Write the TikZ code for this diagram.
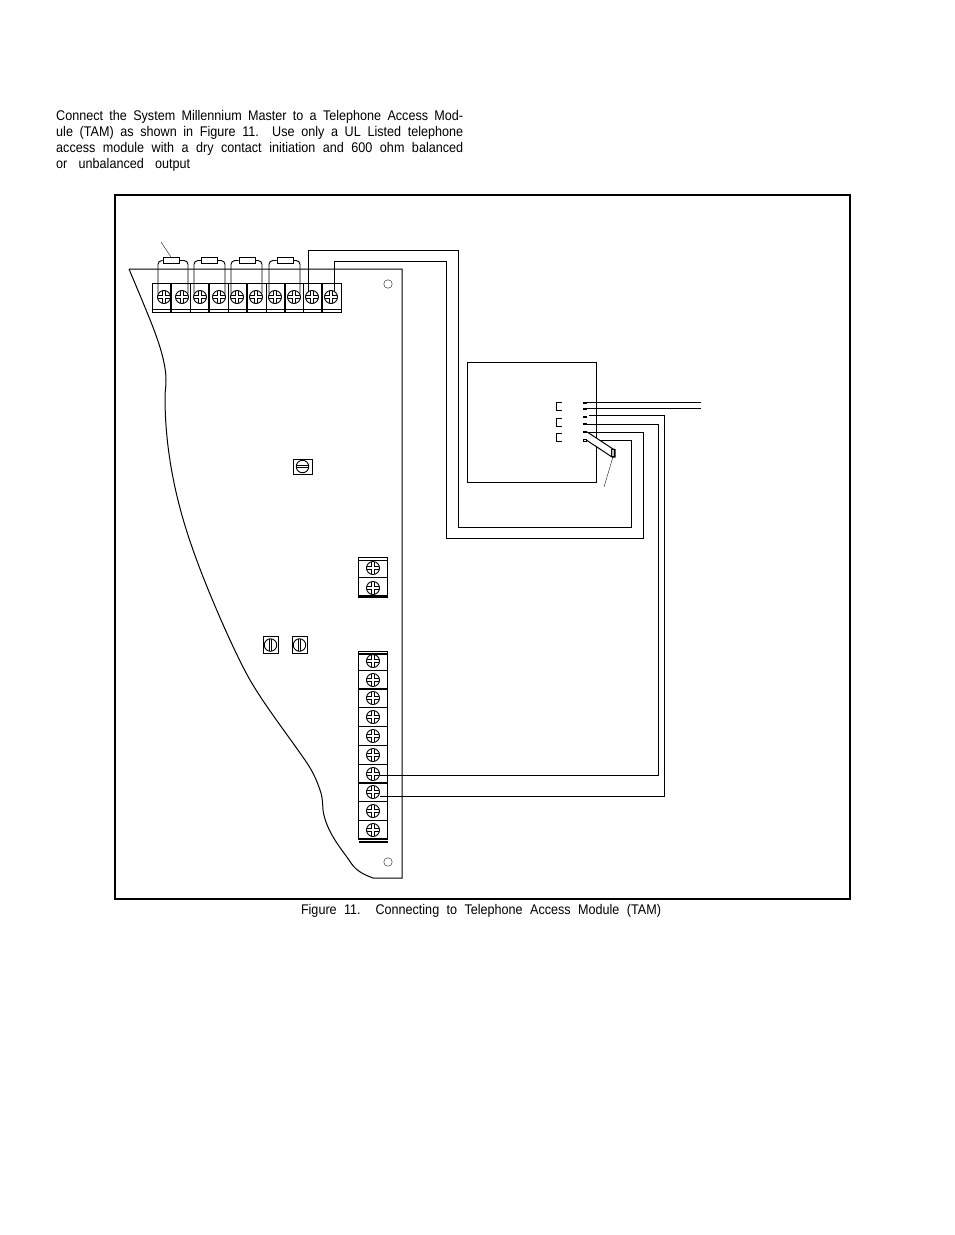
\documentclass[tikz,border=0pt]{standalone}
\usepackage{fontspec}
\setmainfont[FakeStretch=0.9]{Liberation Sans}
\usetikzlibrary{positioning}
\usetikzlibrary{calc}
\tikzstyle{terminal}=[rectangle,draw,line width=1pt,inner sep=0pt]
\tikzstyle{crossscrew}=[circle,draw,line width=0.9pt,fill=white,minimum size=13pt,inner sep=0pt,
  path picture={\draw[line width=3.5pt] ([xshift=-7pt]path picture bounding box.center) -- ([xshift=7pt]path picture bounding box.center);
    \draw[line width=3.5pt] ([yshift=-7pt]path picture bounding box.center) -- ([yshift=7pt]path picture bounding box.center);
    \draw[white,line width=1.6pt] ([xshift=-7pt]path picture bounding box.center) -- ([xshift=7pt]path picture bounding box.center);
    \draw[white,line width=1.6pt] ([yshift=-7pt]path picture bounding box.center) -- ([yshift=7pt]path picture bounding box.center);}]
\tikzstyle{slotH}=[circle,draw,line width=0.9pt,fill=white,minimum size=12.5pt,inner sep=0pt,
  path picture={\draw[line width=2.4pt] ([xshift=-7pt]path picture bounding box.center) -- ([xshift=7pt]path picture bounding box.center);
    \draw[white,line width=0.7pt] ([xshift=-7pt]path picture bounding box.center) -- ([xshift=7pt]path picture bounding box.center);}]
\tikzstyle{slotV}=[circle,draw,line width=0.9pt,fill=white,minimum size=12.5pt,inner sep=0pt,
  path picture={\draw[line width=2.4pt] ([yshift=-7pt]path picture bounding box.center) -- ([yshift=7pt]path picture bounding box.center);
    \draw[white,line width=0.7pt] ([yshift=-7pt]path picture bounding box.center) -- ([yshift=7pt]path picture bounding box.center);}]
\tikzstyle{slotbox}=[rectangle,draw,line width=1pt,inner sep=0pt]
\tikzstyle{hole}=[circle,draw,line width=0.35pt,minimum size=8.5pt,inner sep=0pt]
\tikzstyle{fuse}=[rectangle,draw,line width=1pt,fill=white,minimum width=16pt,minimum height=6pt,inner sep=0pt]
\tikzstyle{contact}=[rectangle,fill=black,minimum width=4pt,minimum height=2pt,inner sep=0pt]
\tikzstyle{wire}=[draw,line width=0.95pt]
\tikzstyle{leader}=[draw,line width=0.35pt]
\tikzstyle{bar}=[draw,line width=1.2pt]
\tikzset{txt/.style={font=\fontsize{14}{15}\selectfont,inner sep=0pt,anchor=west}}

\begin{document}
\begin{tikzpicture}[x=1pt,y=-1pt]
  \useasboundingbox (0,0) rectangle (954,1235);

  % paragraph
  \foreach \y/\line in {116.5/{Connect the System Millennium Master to a Telephone Access Mod-},
                        132.5/{ule (TAM) as shown in Figure 11.\ \ Use only a UL Listed telephone},
                        148.5/{access module with a dry contact initiation and 600 ohm balanced}}
         \node[txt] (par\y) at (56,\y) {\makebox[407pt][s]{\line}};
  \node[txt] (parlast) at (56,164.5) {\makebox[134pt][s]{or unbalanced output}};

  % frame
  \node[rectangle,draw,line width=1.5pt,minimum width=735pt,minimum height=704pt,inner sep=0pt] (frame) at (482.5,547) {};
  \node[font=\fontsize{14}{15}\selectfont,inner sep=0pt] (caption) at (481,911) {\makebox[360pt][s]{Figure 11.\ \ Connecting to Telephone Access Module (TAM)}};

  % board
  \draw[line width=1pt] (129,269) -- (402,269) -- (402,878) -- (373,878)
     .. controls (362,874) and (355,870) .. (349,860)
     .. controls (343,851) and (326,832) .. (323,810)
     .. controls (322.5,800) and (322,795) .. (320,790);
  \draw[line width=1pt] (129,269) -- (142,300)
     .. controls (150,320) and (166,355) .. (166,380)
     .. controls (166,388) and (165,390) .. (165,397)
     .. controls (165,440) and (172,490) .. (192,547)
     .. controls (205,585) and (233,650) .. (250,680)
     .. controls (265,706) and (290,738) .. (307,763)
     .. controls (313,772) and (317,781) .. (320,790);
  \node[hole] (hole1) at (388,284) {};
  \node[hole] (hole2) at (388,862) {};

  % top terminal strip
  \foreach \n/\x in {1/161.5,2/180.5,3/199.5,4/218.5,5/237.5,6/256.5,7/275.5,8/294,9/312.5,10/331.5}
         \node[terminal,minimum width=19pt,minimum height=29pt] (B\n) at (\x,297.5) {};
  \foreach \n/\x in {1/164,2/182,3/200,4/219,5/237,6/256,7/275,8/294,9/312,10/331}
         \node[crossscrew] (J\n) at (\x,297) {};
  \foreach \x in {171,209,247,285,322}
         \path[bar] (\x,283) -- (\x,312);
  \path[bar] (152,309.5) -- (341,309.5);

  % jumpers with fuses
  \foreach \name/\x in {F1/171,F2/209.5,F3/247,F4/285}
         \node[fuse] (\name) at (\x,260.5) {};
  \foreach \name/\l/\r in {F1/J1/J2,F2/J3/J4,F3/J5/J6,F4/J7/J8}{
         \draw[wire,rounded corners=4pt] (\name.west) -- (\l.150 |- \name.west) -- (\l.150);
         \draw[wire,rounded corners=4pt] (\name.east) -- (\r.30 |- \name.east) -- (\r.30);
  }
  \coordinate (fusetag) at (161,242);
  \path[leader] (fusetag) -- (F1.north);

  % two-way block
  \foreach \n/\y in {1/568,2/588}{
         \node[terminal,minimum width=29pt,minimum height=20.5pt] (C\n) at (373,\y-0.3) {};
         \node[crossscrew] (K\n) at (373,\y) {};
  }
  \path[bar] (359,560.5) -- (388,560.5);
  \path[bar] (359,596) -- (388,596);

  % ten-way block
  \foreach \n/\y in {1/661,2/680,3/698,4/717,5/736,6/755,7/774,8/792,9/811,10/830}{
         \node[terminal,minimum width=29pt,minimum height=19pt] (D\n) at (373,\y) {};
         \node[crossscrew] (T\n) at (373,\y) {};
  }
  \path[bar] (359,654) -- (388,654);
  \path[bar] (359,838.5) -- (388,838.5);
  \path[bar] (359,842) -- (388,842);

  % slotted screws
  \node[slotbox,minimum width=19pt,minimum height=15pt] (SB1) at (302.5,466.5) {};
  \node[slotH] (S1) at (302.5,466.5) {};
  \foreach \n/\x in {2/270.5,3/299.5}{
         \node[slotbox,minimum width=15pt,minimum height=17pt] (SB\n) at (\x,645) {};
         \node[slotV] (S\n) at (\x,645) {};
  }

  % telephone access module
  \node[rectangle,draw,line width=1pt,minimum width=129pt,minimum height=120pt,inner sep=0pt] (TAM) at (531.5,422) {};
  \path[draw,line width=1.8pt] (TAM.north east) -- (TAM.south east);
  \foreach \y in {402,418,433}
         \draw[line width=0.9pt] (562,\y) -- (556,\y) -- (556,\y+8.5) -- (562,\y+8.5);
  \foreach \n/\y in {1/402.5,2/408.5,3/417,4/424,5/432}
         \node[contact] (P\n) at (585,\y) {};
  \node[rectangle,draw,line width=0.6pt,fill=white,minimum width=3.5pt,minimum height=2pt,inner sep=0pt] (P6) at (585,440.5) {};

  % wires out of the module
  \coordinate (lineA) at (701,402.5);
  \coordinate (lineB) at (701,408.5);
  \path[wire] (P1) -- (lineA);
  \path[wire] (P2) -- (lineB);

  % wires to the board
  \path[wire] (J9.120) |- (458,250) |- (631,527) |- (P6.east);
  \path[wire] (J10.60) |- (446,261) |- (643,538) |- (P5.east);
  \path[wire] (P4.east) -| (658,775) -- (T7.east |- 658,775);
  \path[wire] (589,415.5) -| (664,796) -- (T8.east |- 664,796);

  % cable stub
  \draw[line width=1pt,fill=white] (P5.east) -- (613,449) -- (615,449.5) -- (615,457) -- (612,457) -- (P6.east);
  \node[rectangle,draw,line width=0.6pt,fill=black!25,minimum width=3pt,minimum height=7pt,inner sep=0pt] (cable) at (613,453) {};
  \coordinate (cabletag) at (604,487);
  \path[leader] (cable.south) -- (cabletag);
\end{tikzpicture}
\end{document}
